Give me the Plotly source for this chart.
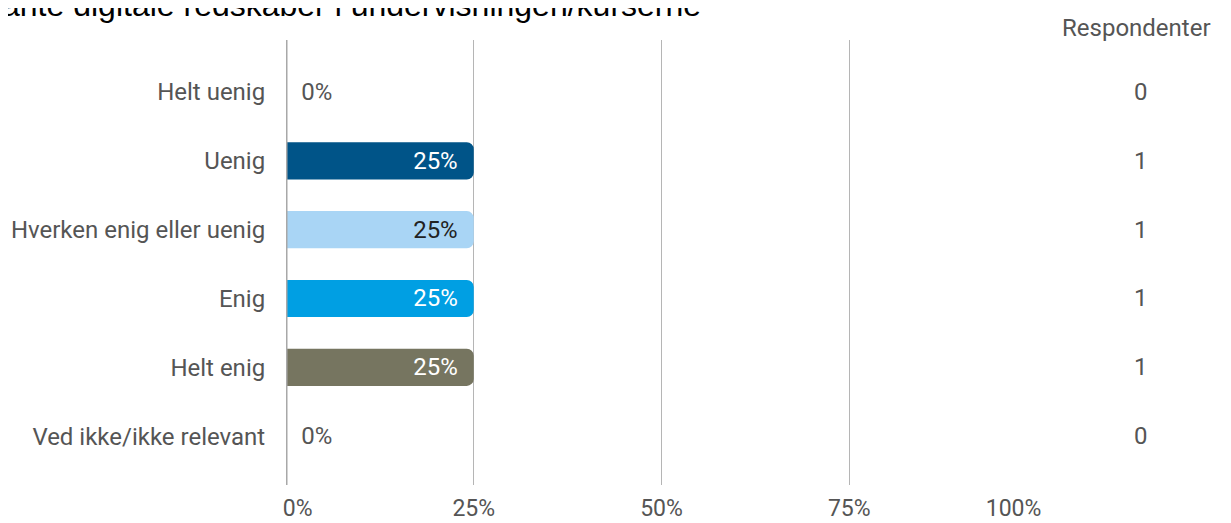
import plotly.graph_objects as go

categories = ['Helt uenig', 'Uenig', 'Hverken enig eller uenig', 'Enig', 'Helt enig', 'Ved ikke/ikke relevant']
shares = [0, 25, 25, 25, 25, 0]
respondents = [0, 1, 1, 1, 1, 0]
bar_colors = ['#cccccc', '#005488', '#a9d5f5', '#009fe3', '#767560', '#cccccc']
label_colors = ['#555555', '#ffffff', '#222222', '#ffffff', '#ffffff', '#555555']
x_ticks = [0, 25, 50, 75, 100]
x_ticktext = ['\u20030%', '25%', '50%', '75%', '100%\u2003\u2003']  # edge labels nudged inward
title_text = 'ante digitale redskaber i undervisningen/kurserne'
count_header = 'Respondenter'

FONT = 'Roboto'
SP = '\u2002'  # en space used as padding around bar labels

labels = [f'{SP}{v}%' if v == 0 else f'{v}%{SP}' for v in shares]

fig = go.Figure()
fig.add_trace(go.Bar(
    x=shares, y=categories, orientation='h',
    marker=dict(color=bar_colors, line=dict(width=0)),
    width=0.54,
    text=labels,
    textposition=['outside' if v == 0 else 'inside' for v in shares],
    insidetextanchor='end',
    textfont=dict(family=FONT, size=24, color=label_colors),
    cliponaxis=False,
    hoverinfo='skip',
))

# respondent counts on the right
for cat, n in zip(categories, respondents):
    fig.add_annotation(x=1.1505, y=cat, xref='paper', yref='y', text=str(n), showarrow=False,
                       xanchor='right', font=dict(family=FONT, size=24, color='#555555'))
fig.add_annotation(x=1.2344, y=1.027, xref='paper', yref='paper', text=count_header, showarrow=False,
                   xanchor='right', yanchor='middle', font=dict(family=FONT, size=24, color='#555555'))

fig.add_annotation(x=-0.381, y=1.0787, xref='paper', yref='paper', text=title_text, showarrow=False,
                   xanchor='left', yanchor='middle',
                   font=dict(family='Liberation Sans, Arial', size=32, color='#000000'))

# page body adds 8px, so figure is 8px smaller and margins shifted
fig.update_layout(
    width=1223, height=515,
    margin=dict(l=278, r=194, t=32, b=38),
    plot_bgcolor='white', paper_bgcolor='white',
    showlegend=False,
    barcornerradius=7,
    font=dict(family=FONT, size=24, color='#555555'),
    xaxis=dict(range=[0, 100], tickvals=x_ticks, ticktext=x_ticktext,
               showgrid=True, gridcolor='#b5b5b5', gridwidth=1,
               zeroline=False, showline=False, automargin=False,
               tickfont=dict(family=FONT, size=23, color='#555555'),
               ticks='outside', ticklen=2, tickcolor='rgba(0,0,0,0)'),
    yaxis=dict(categoryorder='array', categoryarray=categories,
               range=[5.71, -0.756], showgrid=False, zeroline=False, automargin=False,
               tickfont=dict(family=FONT, size=24, color='#555555'),
               ticks='outside', ticklen=15, tickcolor='rgba(0,0,0,0)'),
)
fig.add_vline(x=0, line=dict(color='#a8a8a8', width=3), layer='above')

fig.write_html('out.html')
